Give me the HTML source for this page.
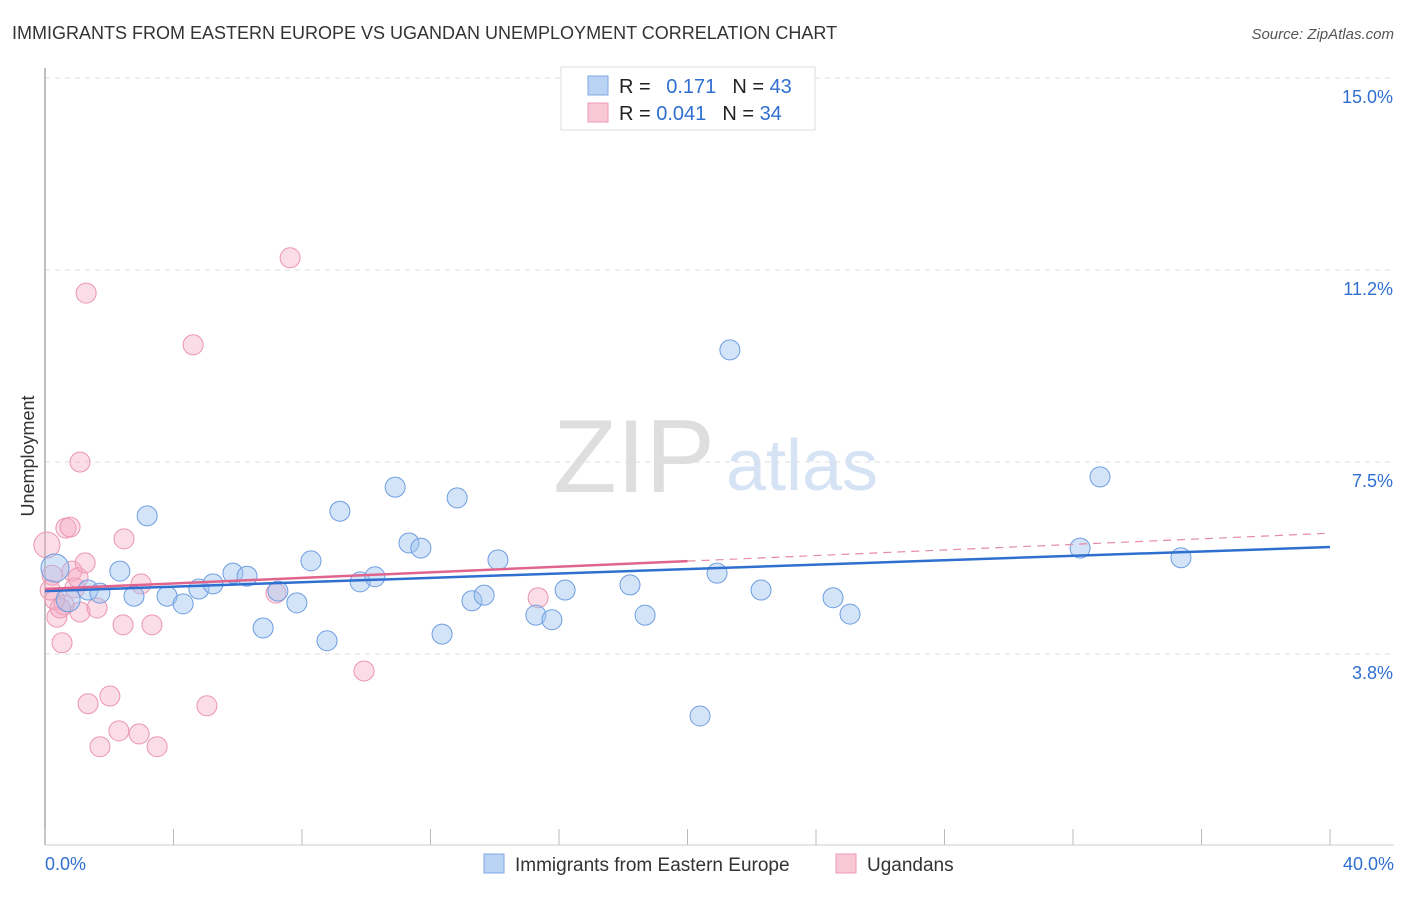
<!DOCTYPE html>
<html><head><meta charset="utf-8"><style>
body{margin:0;background:#fff;font-family:"Liberation Sans",sans-serif;}
svg text{font-family:"Liberation Sans",sans-serif;}
</style></head><body>
<svg id="chart" width="1406" height="892" viewBox="0 0 1406 892">
<text x="12" y="39" font-size="18" fill="#333">IMMIGRANTS FROM EASTERN EUROPE VS UGANDAN UNEMPLOYMENT CORRELATION CHART</text>
<text x="1394" y="39" font-size="15" fill="#555" text-anchor="end" font-style="italic">Source: ZipAtlas.com</text>
<g>
<text x="634" y="492" font-size="104" fill="#dedede" font-family="Liberation Serif" text-anchor="middle">ZIP</text>
<text x="802" y="490" font-size="72" fill="#d5e3f5" text-anchor="middle">atlas</text>
</g>
<g id="grid"></g>
<g id="axes"></g>
<g id="marks"></g>
<text transform="translate(34,456) rotate(-90)" font-size="18" fill="#333" text-anchor="middle">Unemployment</text>
<g>
<rect x="561" y="67" width="254" height="63" fill="#fff" stroke="#ddd"/>
<rect x="588" y="76" width="20" height="19" fill="#b9d3f5" stroke="#7ea9e0"/>
<rect x="588" y="103" width="20" height="19" fill="#f9c8d6" stroke="#ec9ab3"/>
<text x="619" y="93" font-size="20" fill="#222">R = <tspan fill="#2f6fd0" dx="10">0.171</tspan><tspan dx="16">N = </tspan><tspan fill="#2f6fd0">43</tspan></text>
<text x="619" y="120" font-size="20" fill="#222">R = <tspan fill="#2f6fd0">0.041</tspan><tspan dx="16">N = </tspan><tspan fill="#2f6fd0">34</tspan></text>
</g>
<g>
<rect x="484" y="854" width="20" height="19" fill="#b9d3f5" stroke="#7ea9e0"/>
<text x="515" y="871" font-size="19" fill="#333">Immigrants from Eastern Europe</text>
<rect x="836" y="854" width="20" height="19" fill="#f9c8d6" stroke="#ec9ab3"/>
<text x="867" y="871" font-size="19" fill="#333">Ugandans</text>
</g>
</svg>
<script>
const blueX=[0.31,0.72,1.34,1.71,2.33,2.77,3.18,3.80,4.30,4.79,5.23,5.85,6.29,6.79,7.25,7.84,8.28,8.78,9.18,9.81,10.27,10.90,11.33,11.70,12.36,12.83,13.29,13.67,14.10,15.28,15.78,16.19,18.21,18.68,20.39,20.92,21.32,22.29,24.53,25.06,32.22,32.84,35.36];
const blueY=[5.80,5.18,5.37,5.31,5.74,5.25,6.82,5.25,5.10,5.39,5.49,5.70,5.64,4.63,5.35,5.12,5.94,4.38,6.91,5.53,5.63,7.38,6.29,6.19,4.51,7.17,5.16,5.27,5.96,4.88,4.79,5.37,5.47,4.88,2.91,5.70,10.06,5.37,5.22,4.90,6.19,7.58,6.00];
const pinkX=[0.06,0.22,0.31,0.37,0.53,0.59,0.65,0.78,0.84,0.93,1.03,1.09,1.25,1.09,1.28,1.34,1.62,1.71,2.02,2.30,2.43,2.46,2.93,2.99,3.33,3.49,4.61,5.04,7.19,7.63,9.93,15.35,0.16,0.47];
const pinkY=[6.25,5.66,5.18,4.84,4.34,5.08,6.58,6.60,5.74,5.41,5.61,4.94,5.90,7.87,11.17,3.15,5.02,2.31,3.30,2.62,4.69,6.37,2.56,5.49,4.69,2.31,10.16,3.11,5.31,11.86,3.79,5.22,5.37,5.02];
const pinkR=[13,10,10,10,10,10,10,10,10,10,10,10,10,10,10,10,10,10,10,10,10,10,10,10,10,10,10,10,10,10,10,10,10,10];
const blueR=[14,12,10,10,10,10,10,10,10,10,10,10,10,10,10,10,10,10,10,10,10,10,10,10,10,10,10,10,10,10,10,10,10,10,10,10,10,10,10,10,10,10,10];
const blueTrend=[5.35,6.21];
const pinkTrend=[5.39,6.48];
const yTickLabels=["15.0%","11.2%","7.5%","3.8%"];
const yTickVals=[15,11.25,7.5,3.75];
const xTickVals=[0,4,8,12,16,20,24,28,32,36,40];
const NS="http://www.w3.org/2000/svg";
const sx=v=>45+v/40*1285;
const sy=v=>97+(15-v)*51.2;
function mk(t,a,p){const e=document.createElementNS(NS,t);for(const k in a)e.setAttribute(k,a[k]);p.appendChild(e);return e;}
const grid=document.getElementById('grid'),axes=document.getElementById('axes'),marks=document.getElementById('marks');
yTickVals.forEach((v,i)=>{
 const l=mk('line',{x1:45,x2:1394,y1:sy(v)-19,y2:sy(v)-19,stroke:'#ddd','stroke-dasharray':'5,5'},grid);
 
 
 const t=mk('text',{x:1393,y:sy(v)+6,'font-size':18,fill:'#2f6fd0','text-anchor':'end'},axes);
 t.textContent=yTickLabels[i];
 
 
});
let a=mk('line',{x1:45,x2:45,y1:68,y2:845,stroke:'#aaa','stroke-width':1.5},axes);


a=mk('line',{x1:45,x2:1394,y1:845,y2:845,stroke:'#ccc'},axes);


xTickVals.forEach(v=>{
 const l=mk('line',{x1:sx(v),x2:sx(v),y1:829,y2:845,stroke:'#bbb'},axes);
 
 
});
let t=mk('text',{x:45,y:870,'font-size':18,fill:'#2f6fd0'},axes);t.textContent='0.0%';


t=mk('text',{x:1394,y:870,'font-size':18,fill:'#2f6fd0','text-anchor':'end'},axes);t.textContent='40.0%';


pinkX.forEach((x,i)=>{
 const c=mk('circle',{cx:sx(x),cy:sy(pinkY[i]),r:pinkR[i],fill:'rgba(246,170,195,0.4)',stroke:'#eb95b0','stroke-width':1},marks);
 
 
});
blueX.forEach((x,i)=>{
 const c=mk('circle',{cx:sx(x),cy:sy(blueY[i]),r:blueR[i],fill:'rgba(160,195,240,0.45)',stroke:'#6d9de0','stroke-width':1},marks);
 
 
});
const pm=v=>pinkTrend[0]+(pinkTrend[1]-pinkTrend[0])*v/40;
let ln=mk('line',{x1:sx(20),y1:sy(pm(20)),x2:sx(40),y2:sy(pm(40)),stroke:'#e58aa8','stroke-width':1.2,'stroke-dasharray':'8,6'},marks);


ln=mk('line',{x1:sx(0),y1:sy(blueTrend[0]),x2:sx(40),y2:sy(blueTrend[1]),stroke:'#2f6fd0','stroke-width':2.5},marks);


ln=mk('line',{x1:sx(0),y1:sy(pm(0)),x2:sx(20),y2:sy(pm(20)),stroke:'#e0648e','stroke-width':2.5},marks);


</script>
</body></html>
